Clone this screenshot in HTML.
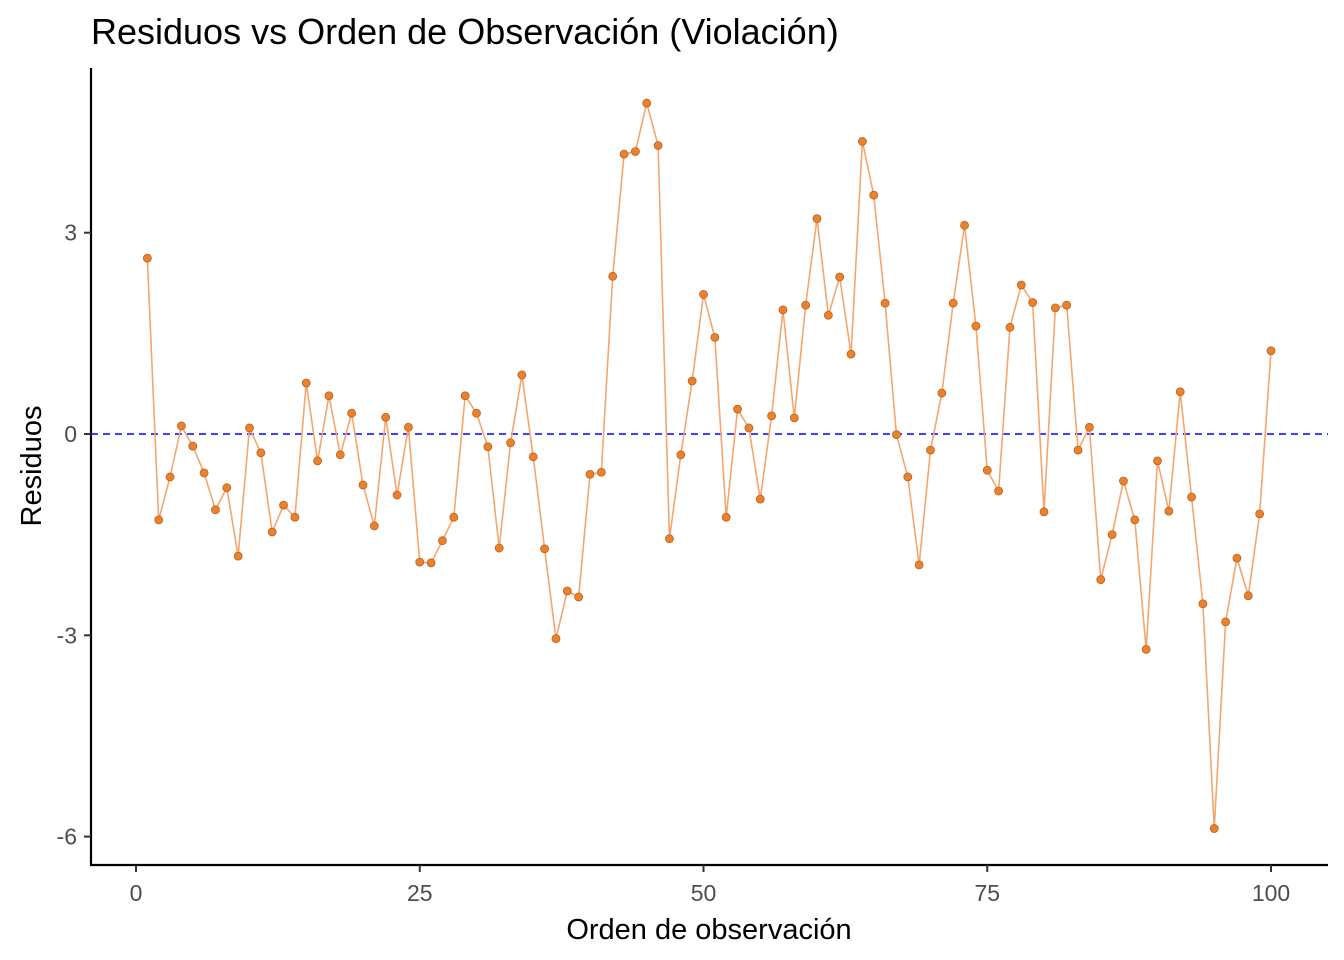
<!DOCTYPE html>
<html><head><meta charset="utf-8"><style>
body{margin:0;background:#fff;}
svg{display:block;font-family:"Liberation Sans",Arial,sans-serif;}
</style></head><body>
<svg id="chart" width="1344" height="960">
<text x="91" y="44" font-size="36" fill="#000">Residuos vs Orden de Observación (Violación)</text>
<text x="709" y="939" font-size="29" text-anchor="middle" fill="#000">Orden de observación</text>
<text transform="translate(41,466) rotate(-90)" font-size="29" text-anchor="middle" fill="#000">Residuos</text>
<g id="axes"></g>
<g id="marks"></g>
</svg>
<script>
const xTicks=[0,25,50,75,100];
const yTicks=[3,0,-3,-6];
const obs=[];for(let i=1;i<=100;i++)obs.push(i);
const residuals=[2.62,-1.28,-0.64,0.12,-0.18,-0.58,-1.13,-0.80,-1.82,0.09,
-0.28,-1.46,-1.06,-1.24,0.76,-0.40,0.57,-0.31,0.31,-0.76,
-1.37,0.25,-0.91,0.10,-1.91,-1.92,-1.59,-1.24,0.57,0.31,
-0.19,-1.70,-0.13,0.88,-0.34,-1.71,-3.05,-2.34,-2.43,-0.60,
-0.57,2.35,4.17,4.21,4.93,4.30,-1.56,-0.31,0.79,2.08,
1.44,-1.24,0.37,0.09,-0.97,0.27,1.85,0.24,1.92,3.21,
1.77,2.34,1.19,4.36,3.56,1.95,-0.01,-0.64,-1.95,-0.24,
0.61,1.95,3.11,1.61,-0.54,-0.85,1.59,2.22,1.96,-1.16,
1.88,1.92,-0.24,0.10,-2.17,-1.50,-0.70,-1.28,-3.21,-0.40,
-1.15,0.63,-0.94,-2.53,-5.88,-2.80,-1.85,-2.41,-1.19,1.24];
const xs=v=>136+v*11.35;
const ys=v=>434-v*67.1;
const NS="http://www.w3.org/2000/svg";
function mk(tag,attrs,parent){const e=document.createElementNS(NS,tag);for(const k in attrs)e.setAttribute(k,attrs[k]);parent.appendChild(e);return e;}
const axes=document.getElementById('axes'),marks=document.getElementById('marks');
let l=mk('line',{x1:91,y1:68,x2:91,y2:866,stroke:'#000','stroke-width':2.2},axes);


l=mk('line',{x1:90,y1:865,x2:1328,y2:865,stroke:'#000','stroke-width':2.2},axes);


xTicks.forEach(t=>{
 let tk=mk('line',{x1:xs(t),y1:865,x2:xs(t),y2:872,stroke:'#333','stroke-width':2},axes);
 
 
 let tx=mk('text',{x:xs(t),y:901,'font-size':23,'text-anchor':'middle',fill:'#4d4d4d'},axes);
 tx.textContent=t;
 
 
});
yTicks.forEach(t=>{
 let tk=mk('line',{x1:84,y1:ys(t),x2:91,y2:ys(t),stroke:'#333','stroke-width':2},axes);
 
 
 let tx=mk('text',{x:77,y:ys(t)+8,'font-size':23,'text-anchor':'end',fill:'#4d4d4d'},axes);
 tx.textContent=t;
 
 
});
let zl=mk('line',{x1:91,y1:ys(0),x2:1328,y2:ys(0),stroke:'#0000ff','stroke-width':1.6,'stroke-dasharray':'7,5'},marks);


let pl=mk('polyline',{points:obs.map((o,i)=>xs(o)+','+ys(residuals[i])).join(' '),fill:'none',stroke:'#f4a66e','stroke-width':1.6},marks);


obs.forEach((o,i)=>{
 let c=mk('circle',{cx:xs(o),cy:ys(residuals[i]),r:4,fill:'#e8822e',stroke:'#c0601a','stroke-width':0.8},marks);
 
 
});
</script>
</body></html>
